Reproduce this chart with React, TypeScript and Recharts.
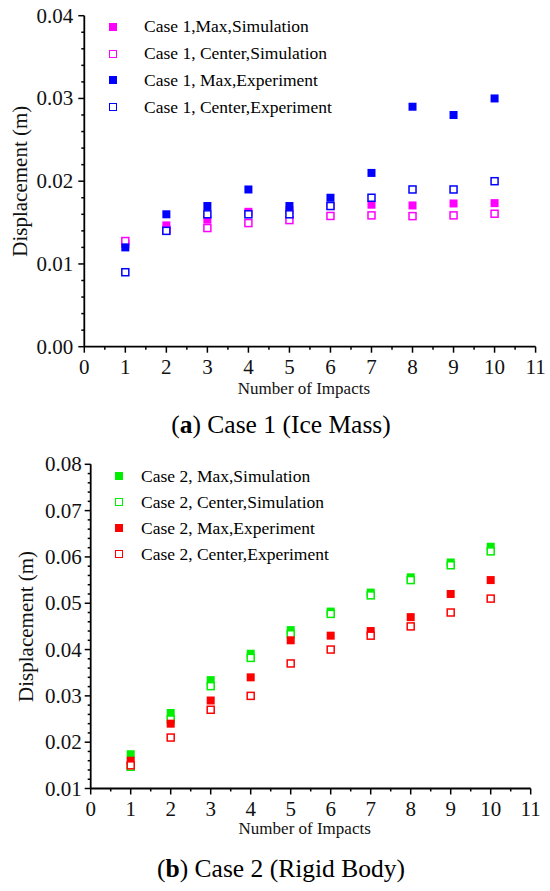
import React from "react";
import { ScatterChart, Scatter, XAxis, YAxis, Legend } from "recharts";

const serif = "'Liberation Serif', 'Times New Roman', serif";

const impacts = [1, 2, 3, 4, 5, 6, 7, 8, 9, 10];
const xMajorTicks = [0, 1, 2, 3, 4, 5, 6, 7, 8, 9, 10, 11];
const xMinorTicks = [0.5, 1.5, 2.5, 3.5, 4.5, 5.5, 6.5, 7.5, 8.5, 9.5, 10.5];

// Case 1 (ice mass)
const case1MaxSim = [0.0124, 0.01466, 0.01535, 0.0163, 0.0165, 0.017, 0.01716, 0.01707, 0.01731, 0.01735];
const case1CenterSim = [0.01277, 0.0141, 0.01434, 0.01494, 0.0153, 0.0158, 0.01587, 0.01578, 0.01587, 0.01607];
const case1MaxExp = [0.012, 0.016, 0.017, 0.019, 0.017, 0.018, 0.021, 0.029, 0.028, 0.03];
const case1CenterExp = [0.009, 0.014, 0.016, 0.016, 0.016, 0.017, 0.018, 0.019, 0.019, 0.02];
const case1YMajor = [0, 0.01, 0.02, 0.03, 0.04];
const case1YMinor = [0.002, 0.004, 0.006, 0.008, 0.012, 0.014, 0.016, 0.018, 0.022, 0.024, 0.026, 0.028, 0.032, 0.034, 0.036, 0.038];

// Case 2 (rigid body)
const case2MaxSim = [0.0174, 0.0263, 0.0334, 0.0391, 0.0442, 0.0482, 0.0523, 0.0556, 0.0588, 0.0622];
const case2CenterSim = [0.0147, 0.0249, 0.0321, 0.0382, 0.0433, 0.0477, 0.0517, 0.055, 0.0582, 0.0612];
const case2MaxExp = [0.016, 0.024, 0.029, 0.034, 0.042, 0.043, 0.044, 0.047, 0.052, 0.055];
const case2CenterExp = [0.015, 0.021, 0.027, 0.03, 0.037, 0.04, 0.043, 0.045, 0.048, 0.051];
const case2YMajor = [0.01, 0.02, 0.03, 0.04, 0.05, 0.06, 0.07, 0.08];
const case2YMinor = [0.012, 0.014, 0.016, 0.018, 0.022, 0.024, 0.026, 0.028, 0.032, 0.034, 0.036, 0.038, 0.042, 0.044, 0.046, 0.048, 0.052, 0.054, 0.056, 0.058, 0.062, 0.064, 0.066, 0.068, 0.072, 0.074, 0.076, 0.078];

type Series = { name: string; color: string; filled: boolean; values: number[] };

const case1Series: Series[] = [
  { name: "Case 1,Max,Simulation", color: "#ff00ff", filled: true, values: case1MaxSim },
  { name: "Case 1, Center,Simulation", color: "#ff00ff", filled: false, values: case1CenterSim },
  { name: "Case 1, Max,Experiment", color: "#0000ff", filled: true, values: case1MaxExp },
  { name: "Case 1, Center,Experiment", color: "#0000ff", filled: false, values: case1CenterExp },
];

const case2Series: Series[] = [
  { name: "Case 2, Max,Simulation", color: "#00ee00", filled: true, values: case2MaxSim },
  { name: "Case 2, Center,Simulation", color: "#00ee00", filled: false, values: case2CenterSim },
  { name: "Case 2, Max,Experiment", color: "#ff0000", filled: true, values: case2MaxExp },
  { name: "Case 2, Center,Experiment", color: "#ff0000", filled: false, values: case2CenterExp },
];

const byNumber = (a: number, b: number) => a - b;

const makeXTick = (majors: number[]) => (props: any) => {
  const { x, y, payload } = props;
  const major = majors.includes(payload.value);
  return (
    <g>
      <line x1={x} x2={x} y1={y} y2={y + (major ? 6 : 3)} stroke="#000" strokeWidth={1.5} />
      {major && (
        <text x={x} y={y + 27} textAnchor="middle" fontSize={21} fontFamily={serif} fill="#111">
          {payload.value}
        </text>
      )}
    </g>
  );
};

const makeYTick = (majors: number[], gap: number) => (props: any) => {
  const { x, y, payload } = props;
  const major = majors.includes(payload.value);
  return (
    <g>
      <line x1={x} x2={x - (major ? 6 : 3)} y1={y} y2={y} stroke="#000" strokeWidth={1.5} />
      {major && (
        <text x={x - gap} y={y + 7} textAnchor="end" fontSize={21} fontFamily={serif} fill="#111">
          {payload.value.toFixed(2)}
        </text>
      )}
    </g>
  );
};

const squareShape = (color: string, filled: boolean) => (props: any) => {
  const { cx, cy } = props;
  if (filled) return <rect x={cx - 4} y={cy - 4} width={8} height={8} fill={color} />;
  return <rect x={cx - 3.5} y={cy - 3.5} width={7} height={7} fill="#fff" stroke={color} strokeWidth={1.5} />;
};

type PanelProps = {
  top: number;
  series: Series[];
  yMajor: number[];
  yMinor: number[];
  margin: { top: number; right: number; left: number; bottom: number };
  yAxisWidth: number;
  xAxisHeight: number;
  yLabelGap: number;
  yTitleOffset: number;
  legendBox: { left: number; top: number; row: number; gap: number };
};

function Panel(p: PanelProps) {
  const xTicks = [...xMajorTicks, ...xMinorTicks].sort(byNumber);
  const yTicks = [...p.yMajor, ...p.yMinor].sort(byNumber);
  const yDomain = [p.yMajor[0], p.yMajor[p.yMajor.length - 1]];

  const renderLegend = (props: any) => {
    const payload: any[] = props.payload || [];
    return (
      <div style={{ fontFamily: serif, fontSize: 17.5, color: "#000" }}>
        {p.series.map((s) => {
          const entry = payload.find((e) => e.value === s.name);
          const color = entry?.color || s.color;
          return (
            <div key={s.name} style={{ display: "flex", alignItems: "center", height: p.legendBox.row, whiteSpace: "nowrap" }}>
              <span
                style={{
                  display: "inline-block",
                  boxSizing: "border-box",
                  width: 8,
                  height: 8,
                  background: s.filled ? color : "#fff",
                  border: s.filled ? "none" : `1.5px solid ${color}`,
                  marginRight: p.legendBox.gap,
                }}
              />
              <span>{entry?.value ?? s.name}</span>
            </div>
          );
        })}
      </div>
    );
  };

  return (
    <div style={{ position: "absolute", left: 0, top: p.top }}>
      <ScatterChart width={550} height={400} margin={p.margin}>
        <XAxis
          type="number"
          dataKey="x"
          domain={[0, 11]}
          ticks={xTicks}
          interval={0}
          height={p.xAxisHeight}
          tickSize={0}
          tickMargin={0}
          tickLine={false}
          tick={makeXTick(xMajorTicks)}
          axisLine={{ stroke: "#000", strokeWidth: 1.8 }}
          label={{
            value: "Number of Impacts",
            position: "insideBottom",
            offset: 6,
            dx: -6,
            fontSize: 17,
            fontFamily: serif,
            fill: "#111",
          }}
        />
        <YAxis
          type="number"
          dataKey="y"
          domain={yDomain}
          ticks={yTicks}
          interval={0}
          width={p.yAxisWidth}
          tickSize={0}
          tickMargin={0}
          tickLine={false}
          tick={makeYTick(p.yMajor, p.yLabelGap)}
          axisLine={{ stroke: "#000", strokeWidth: 1.8 }}
          label={{
            value: "Displacement (m)",
            angle: -90,
            position: "insideLeft",
            offset: p.yTitleOffset,
            fontSize: 21,
            fontFamily: serif,
            fill: "#111",
            style: { textAnchor: "middle" },
          }}
        />
        <Legend
          layout="vertical"
          align="center"
          verticalAlign="middle"
          content={renderLegend}
          wrapperStyle={{ left: p.legendBox.left, top: p.legendBox.top, width: "auto", height: "auto" }}
        />
        {p.series.map((s) => (
          <Scatter
            key={s.name}
            name={s.name}
            data={impacts.map((n, i) => ({ x: n, y: s.values[i] }))}
            fill={s.color}
            shape={squareShape(s.color, s.filled)}
            isAnimationActive={false}
          />
        ))}
      </ScatterChart>
    </div>
  );
}

const captionStyle: React.CSSProperties = {
  position: "absolute",
  left: 6,
  width: 550,
  textAlign: "center",
  fontFamily: serif,
  fontSize: 25.5,
  lineHeight: "25px",
  color: "#000",
};

export default function App() {
  return (
    <div style={{ position: "absolute", left: 0, top: 0, width: 550, height: 891, background: "#fff" }}>
      <Panel
        top={0}
        series={case1Series}
        yMajor={case1YMajor}
        yMinor={case1YMinor}
        margin={{ top: 15.7, right: 14.4, left: 0, bottom: 0 }}
        yAxisWidth={84.3}
        xAxisHeight={53.3}
        yLabelGap={11}
        yTitleOffset={20}
        legendBox={{ left: 109, top: 13.6, row: 26.7, gap: 27 }}
      />
      <div style={{ ...captionStyle, top: 412 }}>
        (<b>a</b>) Case 1 (Ice Mass)
      </div>
      <Panel
        top={440}
        series={case2Series}
        yMajor={case2YMajor}
        yMinor={case2YMinor}
        margin={{ top: 24.3, right: 19.3, left: 0, bottom: 0 }}
        yAxisWidth={90.7}
        xAxisHeight={51.5}
        yLabelGap={9}
        yTitleOffset={26}
        legendBox={{ left: 115, top: 23, row: 26, gap: 18 }}
      />
      <div style={{ ...captionStyle, top: 855.5 }}>
        (<b>b</b>) Case 2 (Rigid Body)
      </div>
    </div>
  );
}
